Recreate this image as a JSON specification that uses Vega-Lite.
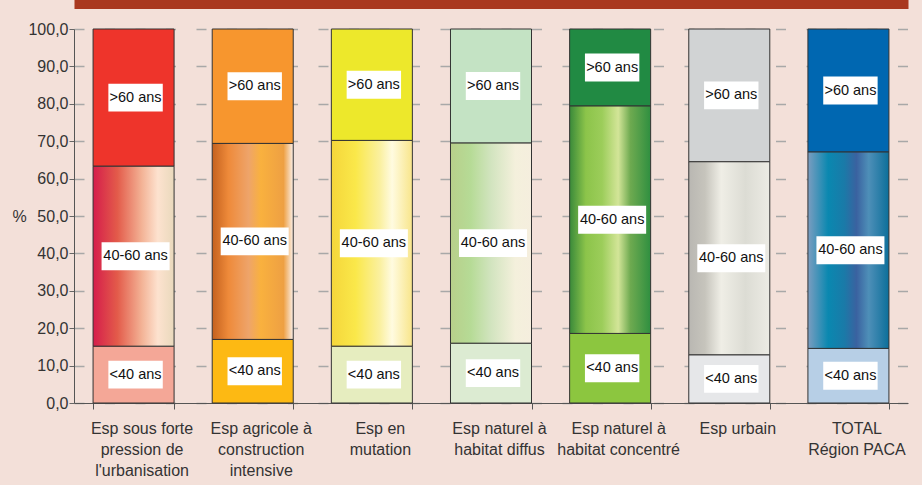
{
  "$schema": "https://vega.github.io/schema/vega-lite/v6.json",
  "width": 834,
  "height": 374,
  "autosize": {"type": "none"},
  "padding": {"left": 74, "top": 29, "right": 14, "bottom": 82},
  "background": "#f3e0d9",
  "config": {"view": {"stroke": null}, "font": "Liberation Sans"},
  "data": {
    "values": [
      {"id": "c1", "cat": "Esp sous forte|pression de|l'urbanisation", "seg": "<40 ans", "order": 1, "value": 15.2},
      {"id": "c1", "cat": "Esp sous forte|pression de|l'urbanisation", "seg": "40-60 ans", "order": 2, "value": 48.1},
      {"id": "c1", "cat": "Esp sous forte|pression de|l'urbanisation", "seg": ">60 ans", "order": 3, "value": 36.7},
      {"id": "c2", "cat": "Esp agricole à|construction|intensive", "seg": "<40 ans", "order": 1, "value": 17.0},
      {"id": "c2", "cat": "Esp agricole à|construction|intensive", "seg": "40-60 ans", "order": 2, "value": 52.4},
      {"id": "c2", "cat": "Esp agricole à|construction|intensive", "seg": ">60 ans", "order": 3, "value": 30.6},
      {"id": "c3", "cat": "Esp en|mutation", "seg": "<40 ans", "order": 1, "value": 15.2},
      {"id": "c3", "cat": "Esp en|mutation", "seg": "40-60 ans", "order": 2, "value": 55.0},
      {"id": "c3", "cat": "Esp en|mutation", "seg": ">60 ans", "order": 3, "value": 29.8},
      {"id": "c4", "cat": "Esp naturel à|habitat diffus", "seg": "<40 ans", "order": 1, "value": 16.0},
      {"id": "c4", "cat": "Esp naturel à|habitat diffus", "seg": "40-60 ans", "order": 2, "value": 53.5},
      {"id": "c4", "cat": "Esp naturel à|habitat diffus", "seg": ">60 ans", "order": 3, "value": 30.5},
      {"id": "c5", "cat": "Esp naturel à|habitat concentré", "seg": "<40 ans", "order": 1, "value": 18.6},
      {"id": "c5", "cat": "Esp naturel à|habitat concentré", "seg": "40-60 ans", "order": 2, "value": 60.8},
      {"id": "c5", "cat": "Esp naturel à|habitat concentré", "seg": ">60 ans", "order": 3, "value": 20.6},
      {"id": "c6", "cat": "Esp urbain", "seg": "<40 ans", "order": 1, "value": 12.9},
      {"id": "c6", "cat": "Esp urbain", "seg": "40-60 ans", "order": 2, "value": 51.6},
      {"id": "c6", "cat": "Esp urbain", "seg": ">60 ans", "order": 3, "value": 35.5},
      {"id": "c7", "cat": "TOTAL|Région PACA", "seg": "<40 ans", "order": 1, "value": 14.6},
      {"id": "c7", "cat": "TOTAL|Région PACA", "seg": "40-60 ans", "order": 2, "value": 52.5},
      {"id": "c7", "cat": "TOTAL|Région PACA", "seg": ">60 ans", "order": 3, "value": 32.9}
    ]
  },
  "transform": [
    {"stack": "value", "groupby": ["cat"], "sort": [{"field": "order", "order": "ascending"}], "as": ["v0", "v1"]},
    {"calculate": "(datum.v0 + datum.v1) / 2", "as": "mid"},
    {"calculate": "datum.id + datum.seg", "as": "key"}
  ],
  "encoding": {
    "x": {"field": "cat", "type": "nominal", "sort": null, "scale": {"paddingInner": 0.32, "paddingOuter": 0.16}, "axis": null}
  },
  "resolve": {"axis": {"x": "independent", "y": "independent"}},
  "layer": [
    {
      "transform": [{"filter": "datum.seg != '40-60 ans'"}],
      "mark": {"type": "bar", "stroke": "#333333", "strokeWidth": 1},
      "encoding": {
        "x": {
          "field": "cat", "type": "nominal", "sort": null,
          "axis": {
            "title": null, "labelAngle": 0, "labelExpr": "split(datum.label, '|')",
            "labelFontSize": 16, "labelColor": "#333333", "labelLineHeight": 21,
            "labelPadding": 11, "labelOffset": 8, "labelLimit": 250,
            "tickBand": "extent", "tickSize": 6, "tickColor": "#555555",
            "domainColor": "#555555"
          }
        },
        "y": {
          "field": "v0", "type": "quantitative",
          "scale": {"domain": [0, 100], "nice": false},
          "axis": {
            "values": [0, 10, 20, 30, 40, 50, 60, 70, 80, 90, 100],
            "labelOverlap": false,
            "labelExpr": "replace(format(datum.value, '.1f'), '.', ',')",
            "labelFontSize": 16, "labelColor": "#333333", "labelPadding": 1,
            "tickSize": 5, "tickColor": "#666666", "domainColor": "#555555",
            "grid": true, "gridColor": "#a8a8a8", "gridDash": [10, 20.5], "gridWidth": 1.5,
            "title": "%", "titleAngle": 0, "titleAlign": "left", "titleBaseline": "middle",
            "titleX": -62, "titleY": 187, "titleFontSize": 16, "titleFontWeight": "normal",
            "titleColor": "#333333"
          }
        },
        "y2": {"field": "v1"},
        "fill": {
          "field": "key", "type": "nominal", "legend": null,
          "scale": {
            "domain": ["c1<40 ans", "c1>60 ans", "c2<40 ans", "c2>60 ans", "c3<40 ans", "c3>60 ans", "c4<40 ans", "c4>60 ans", "c5<40 ans", "c5>60 ans", "c6<40 ans", "c6>60 ans", "c7<40 ans", "c7>60 ans"],
            "range": ["#f4a797", "#ee342b", "#fdb913", "#f7962e", "#e6edbf", "#ede82b", "#dcebd2", "#c4e3c4", "#8cc63f", "#218a43", "#e6e7e9", "#d1d3d4", "#b7cfe6", "#0067b1"]
          }
        }
      }
    },
    {
      "transform": [{"filter": "datum.id == 'c1' && datum.seg == '40-60 ans'"}],
      "mark": {"type": "bar", "stroke": "#333333", "strokeWidth": 1, "fill": {"gradient": "linear", "x1": 0, "y1": 0, "x2": 1, "y2": 0, "stops": [{"offset": 0, "color": "#d51d4b"}, {"offset": 0.3, "color": "#e35b4a"}, {"offset": 0.6, "color": "#f3b295"}, {"offset": 0.8, "color": "#fde2cf"}, {"offset": 1, "color": "#e9d9bc"}]}},
      "encoding": {"y": {"field": "v0", "type": "quantitative", "axis": null}, "y2": {"field": "v1"}}
    },
    {
      "transform": [{"filter": "datum.id == 'c2' && datum.seg == '40-60 ans'"}],
      "mark": {"type": "bar", "stroke": "#333333", "strokeWidth": 1, "fill": {"gradient": "linear", "x1": 0, "y1": 0, "x2": 1, "y2": 0, "stops": [{"offset": 0, "color": "#c4611e"}, {"offset": 0.2, "color": "#ee8a3a"}, {"offset": 0.45, "color": "#eea46a"}, {"offset": 0.6, "color": "#f9b13e"}, {"offset": 0.88, "color": "#eea043"}, {"offset": 1, "color": "#fbefe8"}]}},
      "encoding": {"y": {"field": "v0", "type": "quantitative", "axis": null}, "y2": {"field": "v1"}}
    },
    {
      "transform": [{"filter": "datum.id == 'c3' && datum.seg == '40-60 ans'"}],
      "mark": {"type": "bar", "stroke": "#333333", "strokeWidth": 1, "fill": {"gradient": "linear", "x1": 0, "y1": 0, "x2": 1, "y2": 0, "stops": [{"offset": 0, "color": "#f5d63a"}, {"offset": 0.3, "color": "#fae84a"}, {"offset": 0.6, "color": "#faf0a0"}, {"offset": 0.75, "color": "#fffbe0"}, {"offset": 1, "color": "#f8e58a"}]}},
      "encoding": {"y": {"field": "v0", "type": "quantitative", "axis": null}, "y2": {"field": "v1"}}
    },
    {
      "transform": [{"filter": "datum.id == 'c4' && datum.seg == '40-60 ans'"}],
      "mark": {"type": "bar", "stroke": "#333333", "strokeWidth": 1, "fill": {"gradient": "linear", "x1": 0, "y1": 0, "x2": 1, "y2": 0, "stops": [{"offset": 0, "color": "#b8cf8a"}, {"offset": 0.25, "color": "#b6db96"}, {"offset": 0.5, "color": "#d2e4bf"}, {"offset": 0.8, "color": "#f4f0dc"}, {"offset": 1, "color": "#f5eede"}]}},
      "encoding": {"y": {"field": "v0", "type": "quantitative", "axis": null}, "y2": {"field": "v1"}}
    },
    {
      "transform": [{"filter": "datum.id == 'c5' && datum.seg == '40-60 ans'"}],
      "mark": {"type": "bar", "stroke": "#333333", "strokeWidth": 1, "fill": {"gradient": "linear", "x1": 0, "y1": 0, "x2": 1, "y2": 0, "stops": [{"offset": 0, "color": "#3a8a3a"}, {"offset": 0.2, "color": "#8cc44a"}, {"offset": 0.4, "color": "#9ccd5a"}, {"offset": 0.6, "color": "#d3e598"}, {"offset": 0.75, "color": "#6eaa50"}, {"offset": 1, "color": "#2f8f40"}]}},
      "encoding": {"y": {"field": "v0", "type": "quantitative", "axis": null}, "y2": {"field": "v1"}}
    },
    {
      "transform": [{"filter": "datum.id == 'c6' && datum.seg == '40-60 ans'"}],
      "mark": {"type": "bar", "stroke": "#333333", "strokeWidth": 1, "fill": {"gradient": "linear", "x1": 0, "y1": 0, "x2": 1, "y2": 0, "stops": [{"offset": 0, "color": "#b9b7b2"}, {"offset": 0.2, "color": "#c6c4bc"}, {"offset": 0.4, "color": "#efeee6"}, {"offset": 0.7, "color": "#dcdcd4"}, {"offset": 1, "color": "#ecebe4"}]}},
      "encoding": {"y": {"field": "v0", "type": "quantitative", "axis": null}, "y2": {"field": "v1"}}
    },
    {
      "transform": [{"filter": "datum.id == 'c7' && datum.seg == '40-60 ans'"}],
      "mark": {"type": "bar", "stroke": "#333333", "strokeWidth": 1, "fill": {"gradient": "linear", "x1": 0, "y1": 0, "x2": 1, "y2": 0, "stops": [{"offset": 0, "color": "#7b9dc0"}, {"offset": 0.25, "color": "#0a88b0"}, {"offset": 0.45, "color": "#1a7aa8"}, {"offset": 0.6, "color": "#3a62a0"}, {"offset": 0.75, "color": "#4e8fb8"}, {"offset": 1, "color": "#0c6f9a"}]}},
      "encoding": {"y": {"field": "v0", "type": "quantitative", "axis": null}, "y2": {"field": "v1"}}
    },
    {
      "mark": {"type": "point", "filled": true, "fill": "#ffffff", "opacity": 1, "strokeWidth": 0, "size": 4624, "xOffset": 2},
      "encoding": {
        "y": {"field": "mid", "type": "quantitative", "axis": null},
        "shape": {
          "field": "seg", "type": "nominal", "legend": null,
          "scale": {"domain": ["<40 ans", "40-60 ans", ">60 ans"], "range": ["M-0.8,-0.41H0.8V0.41H-0.8Z", "M-1,-0.41H1V0.41H-1Z", "M-0.8,-0.41H0.8V0.41H-0.8Z"]}
        }
      }
    },
    {
      "mark": {"type": "text", "font": "Liberation Sans", "fontSize": 14.5, "fill": "#111111", "align": "center", "baseline": "middle", "xOffset": 2},
      "encoding": {
        "x": {
          "field": "cat", "type": "nominal", "sort": null,
          "axis": {"orient": "top", "offset": 25, "domainColor": "#a9381f", "domainWidth": 9, "labels": false, "ticks": false, "grid": false, "title": null}
        },
        "y": {"field": "mid", "type": "quantitative", "axis": null},
        "text": {"field": "seg"}
      }
    }
  ]
}
